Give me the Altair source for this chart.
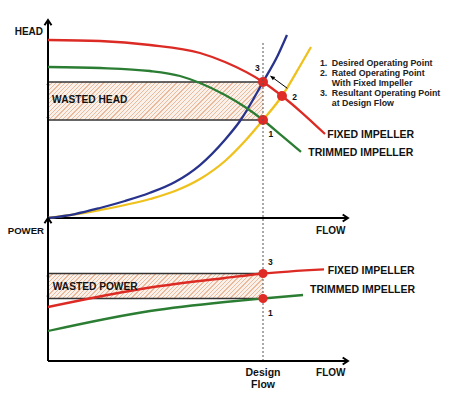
import math
import altair as alt
import pandas as pd

# ---------------- data (flow in % of design flow, head / power in relative units) ----------
flow_head_fixed = [0, 24.19, 47.44, 70.70, 82.33, 100, 108.84, 117.21, 128.84]
head_fixed = [98.89, 98.33, 96.11, 91.67, 86.67, 75.56, 67.78, 59.44, 46.67]

flow_head_trim = [0, 24.19, 47.44, 61.40, 70.70, 82.33, 91.63, 100, 108.84, 117.67]
head_trim = [83.89, 83.33, 81.67, 78.89, 75.0, 68.33, 61.67, 54.44, 45.56, 36.67]

flow_sys_blue = [0, 12.56, 24.19, 35.81, 47.44, 59.07, 70.70, 82.33, 89.30, 100, 106.98, 111.16]
head_sys_blue = [0, 2.22, 5.56, 9.44, 14.0, 20.0, 29.44, 43.5, 53.89, 75.56, 90.56, 101.67]

flow_sys_yellow = [0, 24.19, 47.44, 59.07, 70.70, 82.33, 91.63, 100, 108.84, 117.21, 122.33]
head_sys_yellow = [0, 4.44, 10.56, 15.0, 21.67, 31.67, 42.78, 54.44, 67.78, 84.44, 95.0]

flow_power_fixed = [0, 47.44, 82.33, 100, 128.37]
power_fixed = [37.76, 51.40, 58.04, 61.19, 64.13]

flow_power_trim = [0, 47.44, 82.33, 100, 118.60]
power_trim = [20.98, 34.97, 41.26, 43.71, 46.15]

design_flow = 100
head_points_flow = [100, 108.84, 100]
head_points_head = [54.44, 67.78, 75.56]
head_points_label = ["1", "2", "3"]
power_points_flow = [100, 100]
power_points_power = [43.71, 61.19]
power_points_label = ["1", "3"]

head_axis_top = 110
power_axis_top = 100
flow_axis_end = 139.5

legend_numbers = ["1.", "2.", "", "3.", ""]
legend_lines = ["Desired Operating Point", "Rated Operating Point", "With Fixed Impeller",
                "Resultant Operating Point", "at Design Flow"]
legend_heads = [86.3, 80.4, 74.8, 69.3, 63.7]

# ---------------- layout ----------------
W, H, OFF = 434, 383, 8
X0, KX = 48, 2.15          # page px of flow 0, px per flow unit
H0, KH = 218, 1.8          # page px of head 0, px per head unit
P0, KP = 361, 1.43         # page px of power 0, px per power unit

flow_dom = [(OFF - X0) / KX, (OFF + W - X0) / KX]
head_dom = [(H0 - (OFF + H)) / KH, (H0 - OFF) / KH]
power_dom = [(P0 - (OFF + H)) / KP, (P0 - OFF) / KP]

xs = alt.Scale(domain=flow_dom, nice=False, zero=False)
ysh = alt.Scale(domain=head_dom, nice=False, zero=False)
ysp = alt.Scale(domain=power_dom, nice=False, zero=False)

RED, GREEN, BLUE, YELLOW = "#dc2a24", "#2a7d32", "#27338c", "#efc11c"
PT = "#e02a26"
FONT = "Liberation Sans"


def X(f="f"):
    return alt.X(f"{f}:Q", scale=xs, axis=None)


def X2(f="f2"):
    return alt.X2(f"{f}:Q")


def YH(f="v"):
    return alt.Y(f"{f}:Q", scale=ysh, axis=None)


def YP(f="v"):
    return alt.Y(f"{f}:Q", scale=ysp, axis=None)


def hatch(w_px, h_px, period=4.3, frac=0.28, base="#faf2ea", stripe="#ebb99c"):
    r = h_px / w_px
    s = (1 + r) / (1 + r * r)
    tp = period / (w_px * (1 + r))
    n = int(math.ceil(1 / tp))
    stops = []
    for i in range(n):
        t0 = i * tp
        t1 = min(1.0, t0 + frac * tp)
        t2 = min(1.0, t0 + tp)
        stops += [alt.GradientStop(offset=min(1.0, t0), color=stripe),
                  alt.GradientStop(offset=t1, color=stripe),
                  alt.GradientStop(offset=t1, color=base),
                  alt.GradientStop(offset=t2, color=base)]
    return alt.LinearGradient(gradient="linear", stops=stops, x1=0, y1=0, x2=s, y2=s * r)


def line(df, color, yenc):
    return alt.Chart(df).mark_line(color=color, strokeWidth=2.3, interpolate="monotone").encode(
        x=X(), y=yenc, order="f:Q")


def texts(df, yenc, align="left", size=10.5, weight="bold", color="#111"):
    return alt.Chart(df).mark_text(align=align, baseline="middle", font=FONT, fontSize=size,
                                   fontWeight=weight, color=color).encode(x=X(), y=yenc, text="t:N")


CHEV_UP = "M-1,1.5L0,0L1,1.5"
CHEV_RIGHT = "M-1.5,-1L0,0L-1.5,1"
TRI_UP = "M0,0L-1,1.7L1,1.7Z"
TRI_DOWN = "M0,0L-1,-1.7L1,-1.7Z"
HEAD_TIP = "M0,0L-0.8,2L0.8,2Z"


def marker(df, yenc, shape, size, filled, angle=0, sw=2):
    return alt.Chart(df).mark_point(shape=shape, size=size, filled=filled, color="black",
                                    opacity=1, strokeWidth=sw, angle=angle).encode(x=X(), y=yenc)


# ---------------- head panel ----------------
hb_lo, hb_hi = head_points_head[0], head_points_head[2]
band_h = pd.DataFrame({"f": [0], "f2": [design_flow], "v": [hb_lo], "v2": [hb_hi]})
band_head = alt.Chart(band_h).mark_rect(
    fill=hatch((design_flow * KX), (hb_hi - hb_lo) * KH)).encode(x=X(), x2=X2(), y=YH(), y2=alt.Y2("v2:Q"))
band_head_lines = alt.Chart(pd.DataFrame({"f": [0, 0], "f2": [design_flow] * 2, "v": [hb_lo, hb_hi]})
                            ).mark_rule(color="#333", strokeWidth=1.3).encode(x=X(), x2=X2(), y=YH())

axes_h = pd.DataFrame({"f": [0, 0], "f2": [0, flow_axis_end], "v": [0, 0], "v2": [head_axis_top, 0]})
axis_head = alt.Chart(axes_h).mark_rule(color="black", strokeWidth=2).encode(
    x=X(), x2=X2(), y=YH(), y2=alt.Y2("v2:Q"))

head_layer = alt.layer(
    band_head,
    band_head_lines,
    axis_head,
    marker(pd.DataFrame({"f": [0], "v": [head_axis_top]}), YH(), CHEV_UP, 49, False),
    marker(pd.DataFrame({"f": [flow_axis_end], "v": [0]}), YH(), CHEV_RIGHT, 49, False),
    marker(pd.DataFrame({"f": [0], "v": [hb_hi]}), YH(), TRI_UP, 10, True, sw=0.5),
    marker(pd.DataFrame({"f": [0], "v": [hb_lo]}), YH(), TRI_DOWN, 10, True, sw=0.5),
    line(pd.DataFrame({"f": flow_sys_yellow, "v": head_sys_yellow}), YELLOW, YH()),
    line(pd.DataFrame({"f": flow_sys_blue, "v": head_sys_blue}), BLUE, YH()),
    line(pd.DataFrame({"f": flow_head_trim, "v": head_trim}), GREEN, YH()),
    line(pd.DataFrame({"f": flow_head_fixed, "v": head_fixed}), RED, YH()),
    # arrow from point 2 towards point 3
    alt.Chart(pd.DataFrame({"f": [111.3], "f2": [103.6], "v": [72.06], "v2": [78.8]})).mark_rule(
        color="black", strokeWidth=1).encode(x=X(), x2=X2(), y=YH(), y2=alt.Y2("v2:Q")),
    marker(pd.DataFrame({"f": [103.26], "v": [79.06]}), YH(), HEAD_TIP, 25, True, angle=306, sw=0.5),
    alt.Chart(pd.DataFrame({"f": head_points_flow, "v": head_points_head})).mark_point(
        shape="circle", size=100, filled=True, color=PT, opacity=1).encode(x=X(), y=YH()),
    texts(pd.DataFrame({"f": [102.5, 113.6, 96.3], "v": [46.5, 67.1, 83.5], "t": head_points_label}),
          YH(), size=8.5),
    texts(pd.DataFrame({"f": [-2.3], "v": [103.3], "t": ["HEAD"]}), YH(), align="right", size=10),
    texts(pd.DataFrame({"f": [124.7], "v": [-7.2], "t": ["FLOW"]}), YH(), size=10),
    texts(pd.DataFrame({"f": [1.9], "v": [65.6], "t": ["WASTED HEAD"]}), YH(), size=10.2),
    texts(pd.DataFrame({"f": [129.9, 121.1], "v": [46.1, 36.0], "t": ["FIXED IMPELLER", "TRIMMED IMPELLER"]}),
          YH(), size=10.5),
    texts(pd.DataFrame({"f": [126.5] * 5, "v": legend_heads, "t": legend_numbers}), YH(), size=8.8,
          color="#222"),
    texts(pd.DataFrame({"f": [132.0] * 5, "v": legend_heads, "t": legend_lines}), YH(), size=8.8,
          color="#222"),
)

# ---------------- power panel ----------------
pb_lo, pb_hi = power_points_power[0], power_points_power[1]
band_p = pd.DataFrame({"f": [0], "f2": [design_flow], "v": [pb_lo], "v2": [pb_hi]})
band_power = alt.Chart(band_p).mark_rect(
    fill=hatch((design_flow * KX), (pb_hi - pb_lo) * KP)).encode(x=X(), x2=X2(), y=YP(), y2=alt.Y2("v2:Q"))
band_power_lines = alt.Chart(pd.DataFrame({"f": [0, 0], "f2": [design_flow] * 2, "v": [pb_lo, pb_hi]})
                             ).mark_rule(color="#333", strokeWidth=1.3).encode(x=X(), x2=X2(), y=YP())

axes_p = pd.DataFrame({"f": [0, 0], "f2": [0, flow_axis_end], "v": [0, 0], "v2": [power_axis_top, 0]})
axis_power = alt.Chart(axes_p).mark_rule(color="black", strokeWidth=2).encode(
    x=X(), x2=X2(), y=YP(), y2=alt.Y2("v2:Q"))

design_line = alt.Chart(pd.DataFrame({"f": [design_flow], "v": [0], "v2": [222.4]})).mark_rule(
    color="#555", strokeWidth=1, strokeDash=[2, 2]).encode(x=X(), y=YP(), y2=alt.Y2("v2:Q"))

power_layer = alt.layer(
    band_power,
    band_power_lines,
    design_line,
    axis_power,
    marker(pd.DataFrame({"f": [0], "v": [power_axis_top]}), YP(), CHEV_UP, 49, False),
    marker(pd.DataFrame({"f": [flow_axis_end], "v": [0]}), YP(), CHEV_RIGHT, 49, False),
    marker(pd.DataFrame({"f": [0], "v": [pb_hi]}), YP(), TRI_UP, 10, True, sw=0.5),
    marker(pd.DataFrame({"f": [0], "v": [pb_lo]}), YP(), TRI_DOWN, 10, True, sw=0.5),
    line(pd.DataFrame({"f": flow_power_trim, "v": power_trim}), GREEN, YP()),
    line(pd.DataFrame({"f": flow_power_fixed, "v": power_fixed}), RED, YP()),
    alt.Chart(pd.DataFrame({"f": power_points_flow, "v": power_points_power})).mark_point(
        shape="circle", size=85, filled=True, color=PT, opacity=1).encode(x=X(), y=YP()),
    texts(pd.DataFrame({"f": [102.3, 102.3], "v": [33.8, 69.2], "t": power_points_label}), YP(), size=8.5),
    texts(pd.DataFrame({"f": [-1.86], "v": [90.9], "t": ["POWER"]}), YP(), align="right", size=9.6),
    texts(pd.DataFrame({"f": [124.7], "v": [-8.4], "t": ["FLOW"]}), YP(), size=10),
    texts(pd.DataFrame({"f": [100, 100], "v": [-8.4, -16.8], "t": ["Design", "Flow"]}), YP(),
          align="center", size=10.5),
    texts(pd.DataFrame({"f": [2.2], "v": [52.0], "t": ["WASTED POWER"]}), YP(), size=10.2),
    texts(pd.DataFrame({"f": [130.1, 121.9], "v": [62.9, 49.7], "t": ["FIXED IMPELLER", "TRIMMED IMPELLER"]}),
          YP(), size=10.5),
)

chart = alt.layer(head_layer, power_layer).resolve_scale(y="independent").properties(
    width=W, height=H, autosize=alt.AutoSizeParams(type="none"), padding=0, background="white"
).configure_view(stroke=None)

chart.save("out.html", embed_options={"renderer": "svg", "actions": False})
